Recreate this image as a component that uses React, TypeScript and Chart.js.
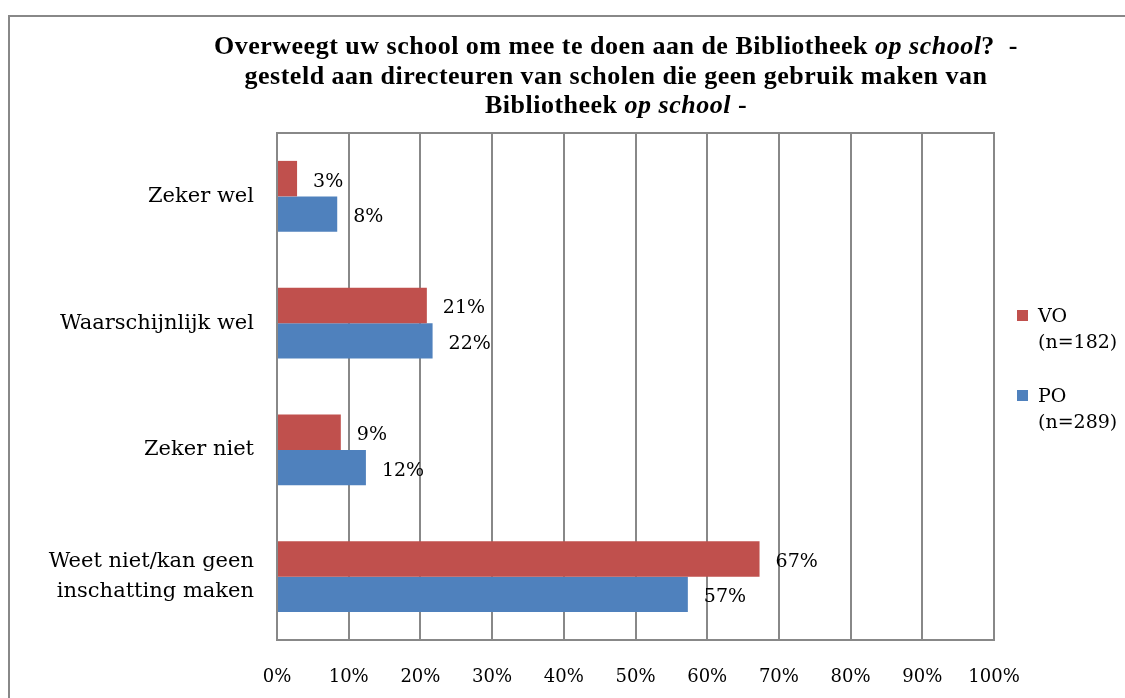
import React, { useEffect, useRef } from "react";
import { Chart, registerables } from "chart.js";

Chart.register(...registerables);

const categories: string[][] = [
  ["Zeker wel"],
  ["Waarschijnlijk wel"],
  ["Zeker niet"],
  ["Weet niet/kan geen", "inschatting maken"],
];
const voValues = [2.8, 20.9, 8.9, 67.3];
const poValues = [8.4, 21.7, 12.4, 57.3];
const seriesNames = ["VO", "PO"];
const seriesSizes = ["(n=182)", "(n=289)"];
const seriesColors = ["#C0504D", "#4F81BD"];

const SERIF = "'DejaVu Serif', serif";
const W = 1125;
const H = 698;

const topLinePlugin = {
  id: "topLine",
  beforeDatasetsDraw(chart: any) {
    const { ctx, chartArea } = chart;
    ctx.save();
    ctx.strokeStyle = "#888888";
    ctx.lineWidth = 2;
    ctx.beginPath();
    ctx.moveTo(chartArea.left - 1, chartArea.top);
    ctx.lineTo(chartArea.right + 1, chartArea.top);
    ctx.stroke();
    ctx.restore();
  },
};

const valueLabelPlugin = {
  id: "valueLabels",
  afterDatasetsDraw(chart: any) {
    const { ctx } = chart;
    ctx.save();
    ctx.font = `19px ${SERIF}`;
    ctx.fillStyle = "#000";
    ctx.textAlign = "left";
    ctx.textBaseline = "middle";
    chart.data.datasets.forEach((ds: any, i: number) => {
      const meta = chart.getDatasetMeta(i);
      meta.data.forEach((el: any, j: number) => {
        const v = ds.data[j];
        ctx.fillText(`${Math.round(v)}%`, el.x + 16, el.y + 3);
      });
    });
    ctx.restore();
  },
};

export default function App() {
  const ref = useRef<HTMLCanvasElement | null>(null);

  useEffect(() => {
    if (!ref.current) return;
    const chart = new Chart(ref.current, {
      type: "bar",
      data: {
        labels: categories,
        datasets: [
          {
            label: seriesNames[0],
            data: voValues,
            backgroundColor: seriesColors[0],
            borderWidth: 0,
            categoryPercentage: 0.56,
            barPercentage: 1.0,
          },
          {
            label: seriesNames[1],
            data: poValues,
            backgroundColor: seriesColors[1],
            borderWidth: 0,
            categoryPercentage: 0.56,
            barPercentage: 1.0,
          },
        ],
      },
      options: {
        indexAxis: "y",
        responsive: false,
        animation: false,
        devicePixelRatio: 1,
        layout: { padding: { top: 133, right: 131, left: 0, bottom: 0 } },
        plugins: {
          legend: { display: false },
          title: { display: false },
          tooltip: { enabled: false },
        },
        scales: {
          x: {
            min: 0,
            max: 100,
            afterFit: (s: any) => {
              s.height = 58;
            },
            ticks: {
              stepSize: 10,
              callback: (v: any) => `${v}%`,
              font: { family: SERIF, size: 18 },
              color: "#000",
              padding: 27,
              maxRotation: 0,
            },
            grid: { color: "#888888", lineWidth: 2, drawTicks: false },
            border: { display: true, color: "#888888", width: 2 },
          },
          y: {
            afterFit: (s: any) => {
              s.width = 277;
            },
            ticks: {
              font: { family: SERIF, size: 21, lineHeight: 1.45 },
              color: "#000",
              padding: 23,
            },
            grid: { display: false, drawTicks: false },
            border: { display: true, color: "#888888", width: 2 },
          },
        },
      },
      plugins: [topLinePlugin, valueLabelPlugin],
    });
    return () => chart.destroy();
  }, []);

  const titleStyle: React.CSSProperties = {
    position: "absolute",
    left: 116,
    width: 1000,
    top: 31,
    textAlign: "center",
    fontFamily: "'Liberation Serif', serif",
    fontWeight: "bold",
    fontSize: 26,
    letterSpacing: "0.5px",
    lineHeight: "29.5px",
    color: "#000",
    whiteSpace: "nowrap",
  };

  const legendText: React.CSSProperties = {
    position: "absolute",
    fontFamily: SERIF,
    fontSize: 19,
    lineHeight: "26px",
    color: "#000",
    whiteSpace: "nowrap",
  };

  return (
    <div
      style={{
        position: "fixed",
        left: 0,
        top: 0,
        width: W,
        height: H,
        overflow: "hidden",
        background: "#fff",
      }}
    >
      <div
        style={{
          position: "absolute",
          left: 8,
          top: 15,
          width: 1200,
          height: 800,
          border: "2px solid #888888",
          boxSizing: "border-box",
        }}
      />
      <canvas
        ref={ref}
        width={W}
        height={H}
        style={{ position: "absolute", left: 0, top: 0, width: W, height: H }}
      />
      <div style={titleStyle}>
        Overweegt uw school om mee te doen aan de Bibliotheek <i>op school</i>?&nbsp; -
        <br />
        gesteld aan directeuren van scholen die geen gebruik maken van
        <br />
        Bibliotheek <i>op school</i> -
      </div>
      {seriesNames.map((name, i) => (
        <React.Fragment key={name}>
          <div
            style={{
              position: "absolute",
              left: 1017,
              top: 310 + i * 80,
              width: 11,
              height: 11,
              background: seriesColors[i],
            }}
          />
          <div style={{ ...legendText, left: 1038, top: 302 + i * 80 }}>
            {name}
            <br />
            {seriesSizes[i]}
          </div>
        </React.Fragment>
      ))}
    </div>
  );
}
